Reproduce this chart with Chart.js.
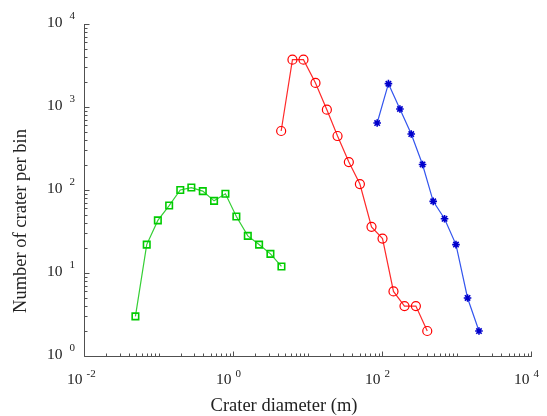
<!DOCTYPE html>
<html>
<head>
<meta charset="utf-8">
<script src="https://cdn.jsdelivr.net/npm/chart.js@4.4.0/dist/chart.umd.min.js"></script>
<style>
  html, body { margin: 0; padding: 0; background: #fff; }
</style>
</head>
<body>
<canvas id="chart" width="547" height="416"></canvas>
<script>
// crater diameters (m) and counts per bin
const smallDiam = [0.049, 0.0695, 0.098, 0.139, 0.196, 0.276, 0.393, 0.557, 0.791, 1.11, 1.58, 2.24, 3.18, 4.47];
const smallCount = [3, 22, 43, 65, 100, 107, 97, 74, 90, 48, 28, 22, 17, 12];

const midDiam = [4.43, 6.28, 8.83, 12.8, 18.2, 25.3, 35.9, 50.5, 72.3, 101.6, 142.6, 200.4, 285, 405];
const midCount = [514, 3720, 3720, 1948, 928, 447, 217, 118, 36, 26, 6, 4, 4, 2];

const bigDiam = [86.1, 122, 174, 247, 350, 487, 691, 984, 1407, 2003];
const bigCount = [641, 1910, 946, 472, 203, 73, 45, 22, 5, 2];

// labelled decades
const xTickExps = [-2, 0, 2, 4];
const yTickExps = [0, 1, 2, 3, 4];

const xTitle = 'Crater diameter (m)';
const yTitle = 'Number of crater per bin';

const toPoints = (xs, ys) => xs.map((x, i) => ({ x: x, y: ys[i] }));

const FONT = '"Liberation Serif", "Times New Roman", serif';

// draws MATLAB-like axes: ticks inside, "10" with superscript exponent
const matlabAxes = {
  id: 'matlabAxes',
  afterDatasetsDraw(chart) {
    const ctx = chart.ctx;
    const xs = chart.scales.x;
    const ys = chart.scales.y;
    const area = chart.chartArea;
    const left = Math.round(area.left) + 0.5;
    const bottom = Math.round(area.bottom) + 0.5;

    ctx.save();
    ctx.strokeStyle = '#505050';
    ctx.lineWidth = 1;
    ctx.beginPath();
    ctx.moveTo(left, Math.round(area.top));
    ctx.lineTo(left, bottom);
    ctx.lineTo(Math.round(area.right) + 1, bottom);
    ctx.stroke();

    // x ticks
    ctx.beginPath();
    for (let e = xTickExps[0]; e < xTickExps[xTickExps.length - 1]; e++) {
      for (let m = 1; m <= 9; m++) {
        const px = Math.round(xs.getPixelForValue(m * Math.pow(10, e))) + 0.5;
        const major = m === 1 && xTickExps.includes(e);
        ctx.moveTo(px, bottom);
        ctx.lineTo(px, bottom - (major ? 5 : 3));
      }
    }
    const xEnd = Math.round(xs.getPixelForValue(Math.pow(10, xTickExps[xTickExps.length - 1]))) + 0.5;
    ctx.moveTo(xEnd, bottom);
    ctx.lineTo(xEnd, bottom - 5);

    // y ticks
    for (let e = yTickExps[0]; e < yTickExps[yTickExps.length - 1]; e++) {
      for (let m = 1; m <= 9; m++) {
        const py = Math.round(ys.getPixelForValue(m * Math.pow(10, e))) + 0.5;
        const major = m === 1 && yTickExps.includes(e);
        ctx.moveTo(left, py);
        ctx.lineTo(left + (major ? 5 : 3), py);
      }
    }
    const yEnd = Math.round(ys.getPixelForValue(Math.pow(10, yTickExps[yTickExps.length - 1]))) + 0.5;
    ctx.moveTo(left, yEnd);
    ctx.lineTo(left + 5, yEnd);
    ctx.stroke();

    // labels
    ctx.fillStyle = '#222';
    ctx.textBaseline = 'middle';
    xTickExps.forEach(e => {
      const px = xs.getPixelForValue(Math.pow(10, e));
      ctx.font = '15.5px ' + FONT;
      ctx.textAlign = 'right';
      ctx.fillText('10', px - 1.5, 380);
      ctx.font = '11px ' + FONT;
      ctx.textAlign = 'left';
      ctx.fillText(String(e), px + 2.5, 374.5);
    });
    yTickExps.forEach(e => {
      const py = ys.getPixelForValue(Math.pow(10, e));
      ctx.font = '15.5px ' + FONT;
      ctx.textAlign = 'right';
      ctx.fillText('10', left - 22, py - 1.5);
      ctx.font = '11px ' + FONT;
      ctx.textAlign = 'left';
      ctx.fillText(String(e), left - 15, py - 8);
    });

    ctx.font = '18.5px ' + FONT;
    ctx.textAlign = 'center';
    ctx.fillText(xTitle, 284, 406);
    ctx.translate(21, 221);
    ctx.rotate(-Math.PI / 2);
    ctx.fillText(yTitle, 0, 0);
    ctx.restore();
  }
};

new Chart(document.getElementById('chart'), {
  type: 'scatter',
  data: {
    datasets: [
      {
        data: toPoints(smallDiam, smallCount),
        showLine: true,
        borderColor: '#35cf35',
        borderWidth: 1.2,
        pointStyle: 'rect',
        pointRadius: 4.6,
        pointBorderWidth: 1.6,
        pointBorderColor: '#00cc00',
        pointBackgroundColor: 'rgba(0,0,0,0)'
      },
      {
        data: toPoints(midDiam, midCount),
        showLine: true,
        borderColor: '#ff2a2a',
        borderWidth: 1.2,
        pointStyle: 'circle',
        pointRadius: 4.5,
        pointBorderWidth: 1.2,
        pointBorderColor: '#ff0000',
        pointBackgroundColor: 'rgba(0,0,0,0)'
      },
      {
        data: toPoints(bigDiam, bigCount),
        showLine: true,
        borderColor: '#3355ee',
        borderWidth: 1.2,
        pointStyle: 'star',
        pointRadius: 3.8,
        pointBorderWidth: 1.6,
        pointBorderColor: '#0000cc',
        pointBackgroundColor: 'rgba(0,0,0,0)'
      }
    ]
  },
  options: {
    responsive: false,
    animation: false,
    layout: { padding: { left: 84, right: 16, top: 24, bottom: 60 } },
    plugins: { legend: { display: false }, tooltip: { enabled: false } },
    elements: { line: { tension: 0 } },
    scales: {
      x: { type: 'logarithmic', display: false, min: 0.01, max: 10000 },
      y: { type: 'logarithmic', display: false, min: 1, max: 10000 }
    }
  },
  plugins: [matlabAxes]
});
</script>
</body>
</html>
